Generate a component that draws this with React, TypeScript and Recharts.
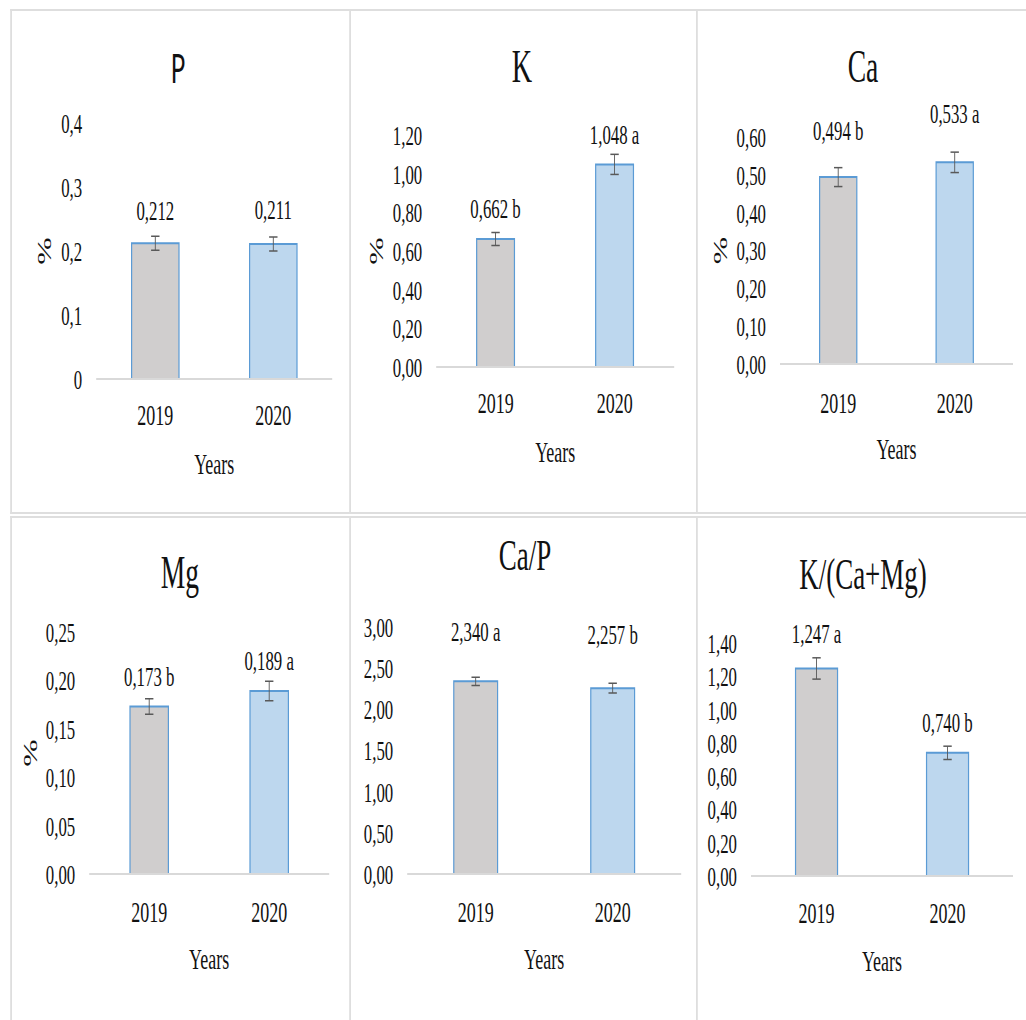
import React from "react";
import { BarChart, Bar, XAxis, YAxis, ErrorBar, Cell, LabelList } from "recharts";

// the reference is horizontally squeezed, so everything is laid out wide and scaled on x
const S = 0.6;
const X_AXIS_H = 95;
const SERIF = "'Liberation Serif', 'Times New Roman', serif";
const SANS = "Lato, 'Liberation Sans', Arial, sans-serif";
const INK = "#111";
const TICK_FS = 28;
const CAT_FS = 30;
const VALUE_FS = 28;

const years = ["2019", "2020"];
const barFills = ["#D0CECE", "#BDD7EE"];

const pValues = [0.212, 0.211];
const pErrors = [0.011, 0.011];
const pLetters = ["", ""];
const pTicks = [0, 0.1, 0.2, 0.3, 0.4];

const kValues = [0.662, 1.048];
const kErrors = [0.034, 0.052];
const kLetters = ["b", "a"];
const kTicks = [0, 0.2, 0.4, 0.6, 0.8, 1.0, 1.2];

const caValues = [0.494, 0.533];
const caErrors = [0.025, 0.027];
const caLetters = ["b", "a"];
const caTicks = [0, 0.1, 0.2, 0.3, 0.4, 0.5, 0.6];

const mgValues = [0.173, 0.189];
const mgErrors = [0.008, 0.01];
const mgLetters = ["b", "a"];
const mgTicks = [0, 0.05, 0.1, 0.15, 0.2, 0.25];

const capValues = [2.34, 2.257];
const capErrors = [0.05, 0.06];
const capLetters = ["a", "b"];
const capTicks = [0, 0.5, 1, 1.5, 2, 2.5, 3];

const kcmValues = [1.247, 0.74];
const kcmErrors = [0.064, 0.04];
const kcmLetters = ["a", "b"];
const kcmTicks = [0, 0.2, 0.4, 0.6, 0.8, 1.0, 1.2, 1.4];

// layout in screen pixels
const panels = [
  {
    title: "P", titleFont: SANS, titleSize: 40, titleAt: [178, 68],
    values: pValues, errors: pErrors, letters: pLetters, ticks: pTicks, decimals: -1,
    box: { l: 10, t: 9, r: 349, h: 505 }, plot: { l: 96, r: 332, top: 123, bottom: 379 },
    gaps: [33, 34], xTick: 36, pct: 51.5, barGap: "30%",
  },
  {
    title: "K", titleFont: SERIF, titleSize: 47, titleAt: [522, 66],
    values: kValues, errors: kErrors, letters: kLetters, ticks: kTicks, decimals: 2,
    box: { l: 349, t: 9, r: 696, h: 505 }, plot: { l: 436, r: 674, top: 135, bottom: 367 },
    gaps: [31, 30], xTick: 36, pct: 60, barGap: "34%",
  },
  {
    title: "Ca", titleFont: SERIF, titleSize: 46, titleAt: [863, 67],
    values: caValues, errors: caErrors, letters: caLetters, ticks: caTicks, decimals: 2,
    box: { l: 696, t: 9, r: 1026, h: 505 }, plot: { l: 780, r: 1013, top: 137, bottom: 364 },
    gaps: [47, 49], xTick: 39, pct: 59.5, barGap: "34%",
  },
  {
    title: "Mg", titleFont: SERIF, titleSize: 46, titleAt: [180, 573],
    values: mgValues, errors: mgErrors, letters: mgLetters, ticks: mgTicks, decimals: 2,
    box: { l: 10, t: 516, r: 349, h: 504 }, plot: { l: 89, r: 329, top: 632, bottom: 874 },
    gaps: [30, 31], xTick: 38, pct: 59, barGap: "34%",
  },
  {
    title: "Ca/P", titleFont: SERIF, titleSize: 45, titleAt: [525, 555],
    values: capValues, errors: capErrors, letters: capLetters, ticks: capTicks, decimals: 2,
    box: { l: 349, t: 516, r: 696, h: 504 }, plot: { l: 407, r: 681, top: 627, bottom: 874 },
    gaps: [50, 54], xTick: 38, pct: 0, barGap: "34%",
  },
  {
    title: "K/(Ca+Mg)", titleFont: SERIF, titleSize: 45, titleAt: [863, 574],
    values: kcmValues, errors: kcmErrors, letters: kcmLetters, ticks: kcmTicks, decimals: 2,
    box: { l: 696, t: 516, r: 1026, h: 504 }, plot: { l: 751, r: 1013, top: 643, bottom: 876 },
    gaps: [35, 30], xTick: 37, pct: 0, barGap: "34%",
  },
];

const fmtTick = (v: number, decimals: number) =>
  (decimals < 0 ? String(v) : v.toFixed(decimals)).replace(".", ",");

const fmtValue = (v: number, letter: string) =>
  v.toFixed(3).replace(".", ",") + (letter ? " " + letter : "");

function PctLabel({ viewBox, gap }: any) {
  const cx = viewBox.x + viewBox.width - gap / S;
  const cy = viewBox.y + viewBox.height / 2;
  return (
    <text
      x={cx}
      y={cy}
      transform={`rotate(-90 ${cx} ${cy})`}
      textAnchor="middle"
      dominantBaseline="central"
      fontFamily={SERIF}
      fontSize={33}
      fill={INK}
    >
      %
    </text>
  );
}

function Panel({ p }: { p: any }) {
  const data = years.map((year, i) => ({
    year,
    value: p.values[i],
    err: p.errors[i],
    label: fmtValue(p.values[i], p.letters[i]),
  }));
  const width = (p.box.r - p.box.l) / S;
  const height = p.box.h;
  const margin = {
    top: p.plot.top - p.box.t,
    right: (p.box.r - p.plot.r) / S,
    bottom: p.box.t + p.box.h - p.plot.bottom - X_AXIS_H,
    left: 0,
  };
  const yMax = p.ticks[p.ticks.length - 1];
  const titleSize = p.titleSize;

  const valueLabel = (props: any) => {
    const vb = props.viewBox ?? props;
    const x = (vb.x ?? props.x) + (vb.width ?? props.width) / 2;
    const y = (vb.y ?? props.y) - p.gaps[props.index] + 0.34 * VALUE_FS;
    return (
      <text x={x} y={y} textAnchor="middle" fontFamily={SERIF} fontSize={VALUE_FS} fill={INK}>
        {props.value}
      </text>
    );
  };

  return (
    <>
      <div
        style={{
          position: "absolute",
          left: p.box.l / S,
          top: p.box.t,
          width,
          height: p.box.t > 100 ? 520 : height,
          boxSizing: "border-box",
          borderTop: "2px solid #dedede",
          borderBottom: "2px solid #dedede",
          borderLeft: "3px solid #dedede",
        }}
      />
      <div
        style={{
          position: "absolute",
          left: p.titleAt[0] / S - 300,
          width: 600,
          top: p.titleAt[1] - titleSize / 2,
          height: titleSize,
          lineHeight: `${titleSize}px`,
          fontSize: titleSize,
          fontFamily: p.titleFont,
          color: INK,
          textAlign: "center",
          whiteSpace: "nowrap",
        }}
      >
        {p.title}
      </div>
      <div style={{ position: "absolute", left: p.box.l / S, top: p.box.t }}>
        <BarChart
          width={width}
          height={height}
          data={data}
          margin={margin}
          barCategoryGap={p.barGap}
        >
          <XAxis
            dataKey="year"
            interval={0}
            height={X_AXIS_H}
            axisLine={{ stroke: "#d9d9d9", strokeWidth: 2 }}
            tickLine={false}
            tickSize={0}
            tickMargin={p.xTick - 0.37 * CAT_FS}
            tick={{ fill: INK, fontSize: CAT_FS, fontFamily: SERIF }}
            label={{
              value: "Years",
              position: "insideBottom",
              offset: 0,
              fill: INK,
              fontSize: CAT_FS,
              fontFamily: SERIF,
            }}
          />
          <YAxis
            type="number"
            domain={[0, yMax]}
            allowDataOverflow
            ticks={p.ticks}
            interval={0}
            width={(p.plot.l - p.box.l) / S}
            axisLine={false}
            tickLine={false}
            tickSize={0}
            tickMargin={14 / S}
            tickFormatter={(v: number) => fmtTick(v, p.decimals)}
            tick={{ fill: INK, fontSize: TICK_FS, fontFamily: SERIF }}
            label={p.pct ? <PctLabel gap={p.pct} /> : undefined}
          />
          <Bar
            dataKey="value"
            stroke="#5B9BD5"
            strokeWidth={2}
            isAnimationActive={false}
          >
            {data.map((d, i) => (
              <Cell key={d.year} fill={barFills[i]} />
            ))}
            <ErrorBar
              dataKey="err"
              direction="y"
              width={7}
              stroke="#595959"
              strokeWidth={1.5}
            />
            <LabelList dataKey="label" content={valueLabel} />
          </Bar>
        </BarChart>
      </div>
    </>
  );
}

export default function App() {
  return (
    <div
      style={{
        position: "absolute",
        left: 0,
        top: 0,
        width: 1026,
        height: 1020,
        overflow: "hidden",
        background: "#fff",
      }}
    >
      <div
        style={{
          position: "absolute",
          left: 0,
          top: 0,
          width: 1026 / S,
          height: 1020,
          transform: `scale(${S}, 1)`,
          transformOrigin: "0 0",
        }}
      >
        {panels.map((p) => (
          <Panel key={p.title} p={p} />
        ))}
      </div>
    </div>
  );
}
